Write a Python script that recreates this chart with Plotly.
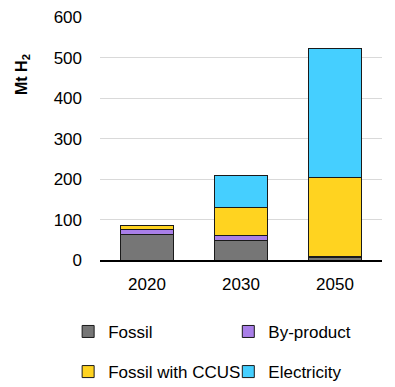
import plotly.graph_objects as go

years = ["2020", "2030", "2050"]
fossil = [64, 49, 7]
by_product = [12, 12, 1]
fossil_ccus = [9, 69, 195]
electricity = [1, 80, 320]

series = [
    ("Fossil", fossil, "#767676", "legend2"),
    ("By-product", by_product, "#A97FE8", "legend3"),
    ("Fossil with CCUS", fossil_ccus, "#FFD320", "legend4"),
    ("Electricity", electricity, "#45CFFF", "legend5"),
]

FONT = "Liberation Sans, Arial, sans-serif"

fig = go.Figure()
for name, vals, color, lg in series:
    fig.add_trace(go.Bar(
        x=years, y=vals, name=name,
        marker=dict(color=color, line=dict(color="#1a1a1a", width=1)),
        width=0.57, legend=lg,
    ))

legend_common = dict(
    orientation="h", xanchor="left", yanchor="middle",
    font=dict(family=FONT, size=17, color="#000"),
    bgcolor="rgba(0,0,0,0)", itemclick=False, itemdoubleclick=False,
)

fig.update_layout(
    width=387, height=379,
    margin=dict(l=92, r=13, t=9, b=127, autoexpand=False),
    barmode="stack",
    plot_bgcolor="white", paper_bgcolor="white",
    font=dict(family=FONT, size=17, color="#000"),
    legend2=dict(x=-0.113, y=-0.296, **legend_common),
    legend3=dict(x=0.455, y=-0.296, **legend_common),
    legend4=dict(x=-0.113, y=-0.461, **legend_common),
    legend5=dict(x=0.455, y=-0.461, **legend_common),
    xaxis=dict(
        type="category", showline=True, linecolor="#000", linewidth=1.5,
        showgrid=False, ticks="", ticklabelstandoff=8,
        tickfont=dict(family=FONT, size=17, color="#000"),
    ),
    yaxis=dict(
        range=[0, 601], tickmode="linear", tick0=0, dtick=100,
        showgrid=True, gridcolor="#d9d9d9",
        gridwidth=1, zeroline=False, showline=False, ticks="",
        ticklabelstandoff=17, ticklabeloverflow="allow",
        tickfont=dict(family=FONT, size=17, color="#000"),
    ),
    annotations=[dict(
        text="<b>Mt H<sub>2</sub></b>", textangle=-90,
        xref="paper", yref="paper", x=-0.277, y=0.765,
        xanchor="center", yanchor="middle", showarrow=False,
        font=dict(family=FONT, size=16, color="#000"),
    )],
)

fig.write_html("out.html")
